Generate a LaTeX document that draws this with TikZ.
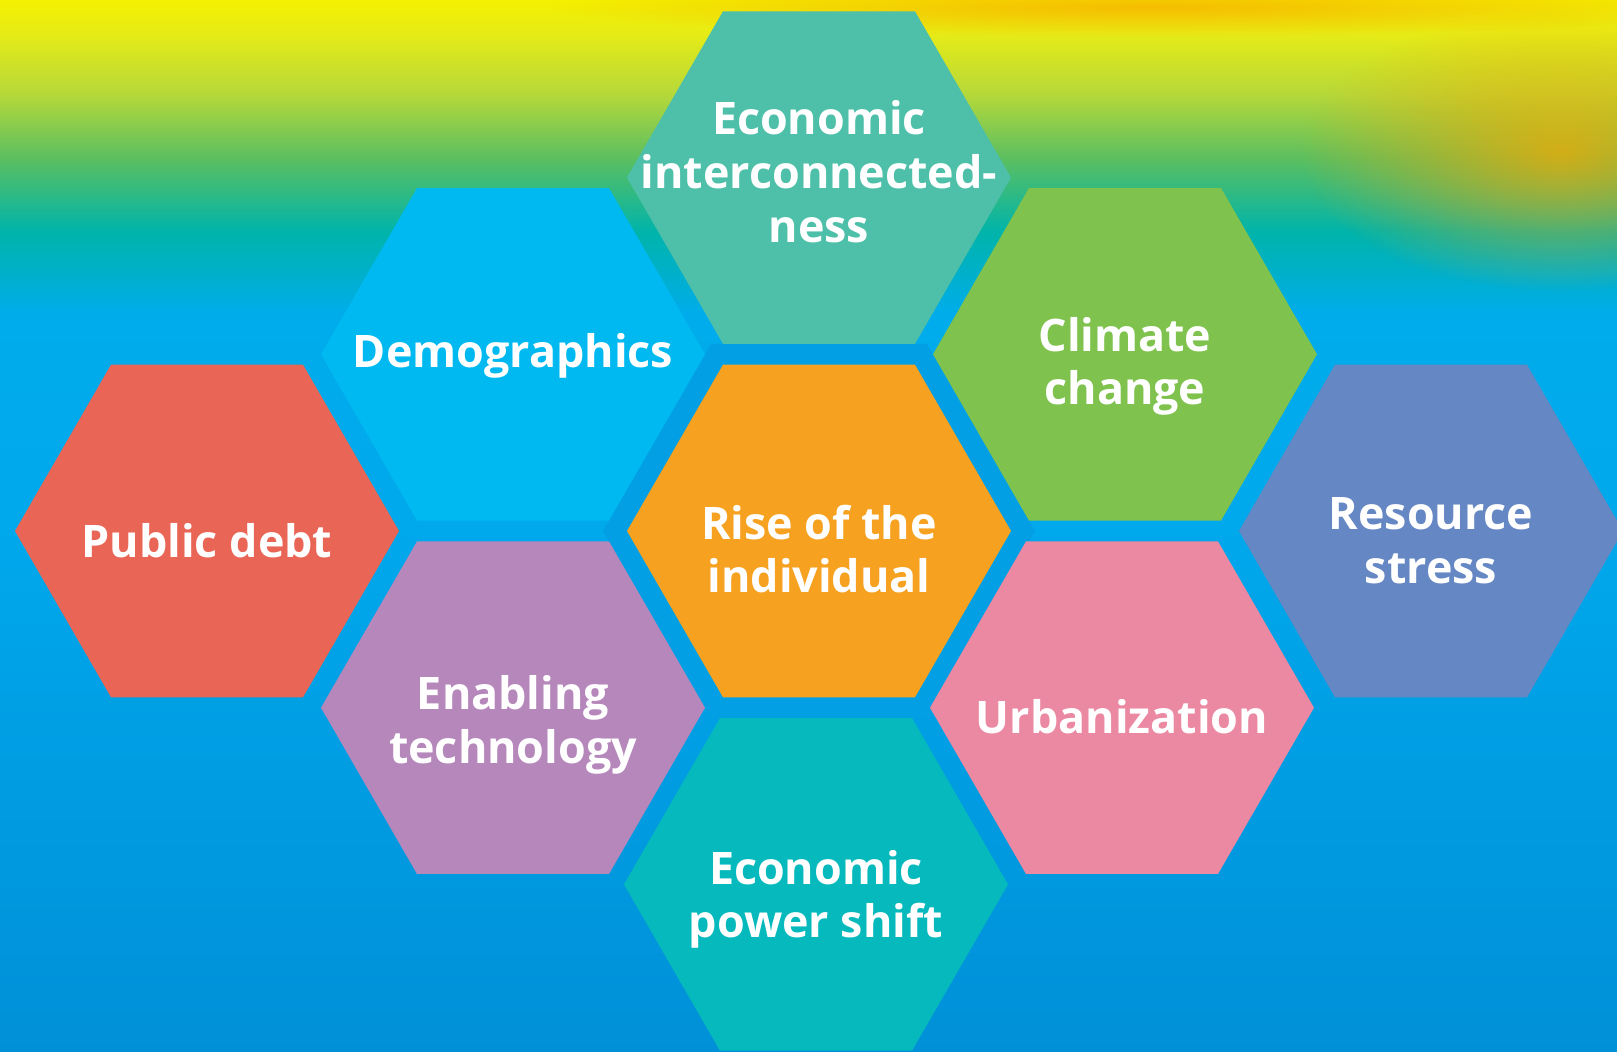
\documentclass[tikz,border=0pt]{standalone}
\usepackage{fontspec}
\setmainfont{Open Sans}
\usetikzlibrary{fadings}
\definecolor{skyA}{HTML}{0090D8}
\definecolor{skyB}{HTML}{00A8EC}
\definecolor{skyC}{HTML}{00ACEC}
\definecolor{skyD}{HTML}{00B4AA}
\definecolor{skyE}{HTML}{5CBF60}
\definecolor{skyF}{HTML}{B5D83A}
\definecolor{skyG}{HTML}{E8EC15}
\definecolor{skyH}{HTML}{F4F000}
\definecolor{halo}{HTML}{039FE4}
\definecolor{glow}{HTML}{F7A800}
\definecolor{hexEI}{HTML}{4EC0A9}
\definecolor{hexDE}{HTML}{00B9F0}
\definecolor{hexCC}{HTML}{7FC24D}
\definecolor{hexPD}{HTML}{E96656}
\definecolor{hexRI}{HTML}{F6A11F}
\definecolor{hexRS}{HTML}{6587C3}
\definecolor{hexET}{HTML}{B587BA}
\definecolor{hexUR}{HTML}{EB88A2}
\definecolor{hexPS}{HTML}{05B9BC}
\pgfdeclareverticalshading{skybg}{100bp}{color(0bp)=(skyA); color(25bp)=(skyA);
  color(50bp)=(skyB); color(60bp)=(skyC); color(64bp)=(skyD); color(67.5bp)=(skyE);
  color(70.5bp)=(skyF); color(73.5bp)=(skyG); color(75bp)=(skyH); color(100bp)=(skyH)}
\tikzfading[name=softglow, inner color=transparent!0, outer color=transparent!100]
\begin{document}
\begin{tikzpicture}[x=0.01cm, y=0.01cm, line join=round,
    hextext/.style={text=white, font=\fontsize{12.75}{15.3}\selectfont\bfseries, align=center, inner sep=0pt}]
    \def\rad{192}
    \useasboundingbox (0,0) rectangle (1617,1052);
    \clip (0,0) rectangle (1617,1052);
    % nền
    \shade[shading=skybg] (0,0) rectangle (1617,1052);
    \fill[glow, opacity=.75, path fading=softglow] (1560,900) ellipse (260 and 140);
    \fill[glow, opacity=.7, path fading=softglow] (1150,1045) ellipse (600 and 30);
    \fill[halo] (819,521) +(0:216) -- +(60:216) -- +(120:216) -- +(180:216) -- +(240:216) -- +(300:216) -- cycle;
    % các lục giác
    \foreach \n/\x/\y/\col/\dy/\txt in {
        econ/819/874.4/hexEI/-6/{Economic\\interconnected-\\ness},
        demo/513/697.7/hexDE/2/{Demographics},
        clim/1125/697.7/hexCC/12/{Climate\\change},
        debt/207/521/hexPD/10/{Public debt},
        rise/819/521/hexRI/18/{Rise of the\\individual},
        reso/1431/521/hexRS/10/{Resource\\stress},
        tech/513/344.3/hexET/17/{Enabling\\technology},
        urba/1122/344.3/hexUR/9/{Urbanization},
        shif/816/167.6/hexPS/15/{Economic\\power shift}}
    {
        \fill[\col] (\x,\y) +(0:\rad) -- +(60:\rad) -- +(120:\rad) -- +(180:\rad) -- +(240:\rad) -- +(300:\rad) -- cycle;
        \node[hextext] (\n) at (\x,\y-\dy) {\txt};
    }
\end{tikzpicture}
\end{document}
